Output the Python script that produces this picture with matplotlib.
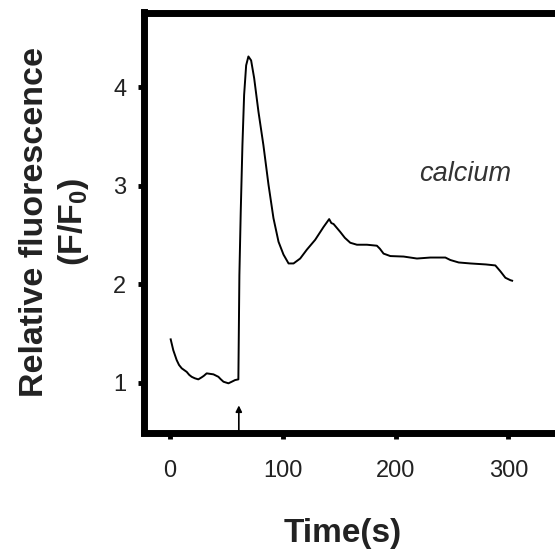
import matplotlib
matplotlib.use("Agg")
import matplotlib.pyplot as plt
from matplotlib import font_manager

# ---- data ----
time_s = [0.6, 2.9, 5.9, 8.0, 10.4, 14.8, 17.0, 19.2, 22.0, 25.1, 28.1, 30.0,
          32.5, 35.5, 38.5, 42.9, 45.0, 47.4, 51.8, 54.7, 57.7, 60.6,
          61.5, 62.7, 64.2, 65.7, 67.5, 69.5, 71.9, 74.6, 78.4, 82.8, 87.3,
          91.7, 96.2, 100.6, 105.1, 109.5, 115.4, 121.3, 128.7, 136.1, 141.1,
          143.0, 145.0, 150.9, 155.0, 159.8, 165.7, 174.6, 183.4, 186.0,
          189.3, 195.3, 207.1, 218.9, 230.8, 244.1, 248.5, 255.9, 266.3,
          280.0, 288.4, 292.9, 297.3, 301.8, 303.3]
fluor = [1.44, 1.33, 1.23, 1.18, 1.146, 1.11, 1.08, 1.06, 1.045, 1.034, 1.055,
         1.07, 1.095, 1.09, 1.085, 1.06, 1.035, 1.01, 0.994, 1.01, 1.027, 1.034,
         2.09, 2.735, 3.41, 3.92, 4.22, 4.31, 4.27, 4.09, 3.75, 3.41, 3.01,
         2.67, 2.43, 2.30, 2.21, 2.21, 2.26, 2.35, 2.45, 2.58, 2.66,
         2.62, 2.61, 2.53, 2.47, 2.42, 2.40, 2.40, 2.39, 2.36,
         2.31, 2.285, 2.28, 2.26, 2.27, 2.27, 2.245, 2.22, 2.21,
         2.20, 2.19, 2.13, 2.065, 2.04, 2.035]
x_ticks = [0, 100, 200, 300]
y_ticks = [1, 2, 3, 4]
stimulus_time = 61
label_text = "calcium"

# ---- fonts ----
available = {f.name for f in font_manager.fontManager.ttflist}
if "Liberation Sans Narrow" in available:
    tick_family, tick_size = "Liberation Sans Narrow", 19
else:
    tick_family, tick_size = "Liberation Sans", 17
plt.rcParams["font.family"] = ["Liberation Sans", "DejaVu Sans"]
plt.rcParams["mathtext.fontset"] = "custom"
plt.rcParams["mathtext.rm"] = "Liberation Sans"
plt.rcParams["mathtext.bf"] = "Liberation Sans:bold"

W, H = 555, 552
fig = plt.figure(figsize=(W / 100, H / 100), dpi=100)
fig.patch.set_facecolor("white")

left_px, right_px, top_px, bot_px = 143.5, 562, 12.5, 432.5
ax = fig.add_axes([left_px / W, 1 - bot_px / H,
                   (right_px - left_px) / W, (bot_px - top_px) / H])

ax.plot(time_s, fluor, color="black", lw=1.4, solid_joinstyle="round")

ax.set_xlim(-23.5, 347.5)
ax.set_ylim(0.495, 4.756)

for s in ax.spines.values():
    s.set_linewidth(5)
    s.set_color("black")

ax.set_xticks(x_ticks)
ax.set_yticks(y_ticks)
ax.tick_params(axis="both", direction="out", length=4.5, width=3.5,
               color="black", labelcolor="#222222")
ax.tick_params(axis="x", pad=15)
ax.tick_params(axis="y", pad=8)
for lab in ax.get_xticklabels() + ax.get_yticklabels():
    lab.set_fontfamily(tick_family)
    lab.set_fontsize(tick_size)

# stimulus arrow
ax.annotate("", xy=(stimulus_time, 0.77), xytext=(stimulus_time, 0.495),
            arrowprops=dict(arrowstyle="-|>", color="black", lw=1.2,
                            mutation_scale=9, shrinkA=0, shrinkB=0))

ax.text(261.4, 3.117, label_text, fontsize=19.5, style="italic",
        color="#333333", ha="center", va="center")

fig.text(55 / W, 1 - 222 / H, "Relative fluorescence\n(F/F$_\\mathbf{0}$)",
         rotation=90, ha="center", va="center", fontsize=24.5,
         fontweight="bold", color="#222222", multialignment="center",
         linespacing=1.25)
fig.text(343 / W, 1 - 542 / H, "Time(s)", ha="center", va="baseline",
         fontsize=24, fontweight="bold", color="#222222")

fig.savefig("out.png", dpi=100, facecolor="white")
